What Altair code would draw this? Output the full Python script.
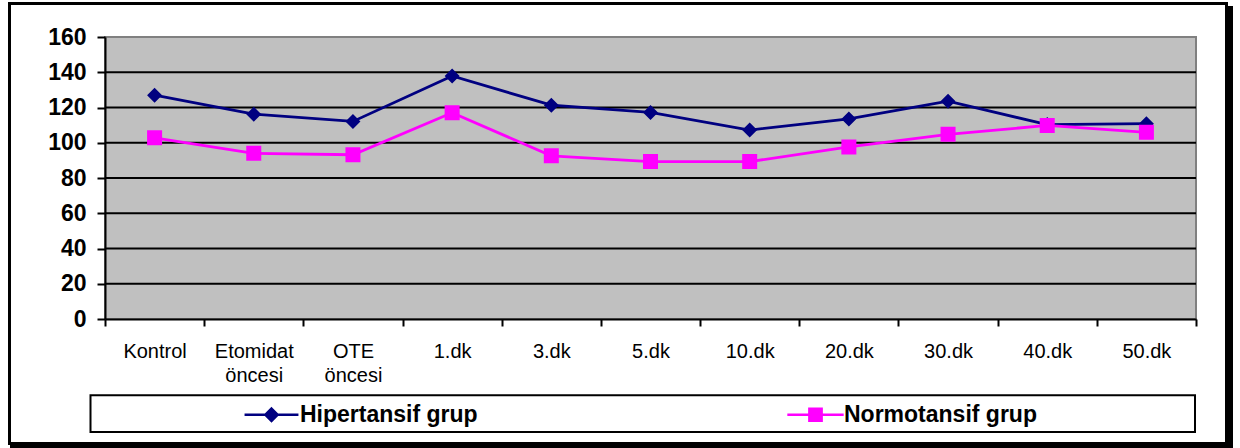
import altair as alt
import pandas as pd

# Measurement times (x categories); spaces become line breaks in the axis labels
zaman = ["Kontrol", "Etomidat öncesi", "OTE öncesi", "1.dk", "3.dk", "5.dk",
         "10.dk", "20.dk", "30.dk", "40.dk", "50.dk"]

# Series values
hipertansif = [127, 116.2, 112.1, 137.9, 121.3, 117.2, 107.2, 113.5, 123.6, 110.3, 110.8]
normotansif = [102.8, 94.0, 93.2, 117.0, 92.6, 89.3, 89.3, 97.6, 104.8, 109.8, 105.9]

seriler = ["Hipertansif grup", "Normotansif grup"]
renkler = ["#000080", "#FF00FF"]

y_ticks = [0, 20, 40, 60, 80, 100, 120, 140, 160]
grid_values = [20, 40, 60, 80, 100, 120, 140]

# Marker paths: a filled diamond / square with short line stubs on either side
# (the stubs have no area, so only the stroked legend symbols show them)
diamond_path = "M-4.4,0H-1M0,-1L1,0L0,1L-1,0ZM1,0H4.4"
square_path = "M-4.6,0H-1M-1,-1H1V1H-1ZM1,0H4.6"

FONT = "Liberation Sans"
W, H = 1091, 282

df = pd.DataFrame({
    "Zaman": zaman * 2,
    "Seri": [seriler[0]] * len(zaman) + [seriler[1]] * len(zaman),
    "Deger": hipertansif + normotansif,
})
grid_df = pd.DataFrame({"Deger": grid_values})

x_enc = alt.X(
    "Zaman:N", sort=zaman, bandPosition=0.5,
    scale=alt.Scale(type="band", domain=zaman, paddingInner=0, paddingOuter=0),
    axis=alt.Axis(
        title=None, grid=False, tickBand="extent", labelAngle=0,
        domainColor="black", domainWidth=2,
        tickColor="black", tickWidth=2, tickSize=7,
        labelPadding=15, labelFont=FONT, labelFontSize=20, labelColor="black",
        labelExpr="split(datum.label, ' ')", labelLineHeight=24,
        labelBaseline="top", labelOverlap=False, zindex=1,
    ),
)

y_axis = alt.Axis(
    title=None, grid=False, values=y_ticks,
    domainColor="black", domainWidth=2,
    tickColor="black", tickWidth=2, tickSize=8,
    labelPadding=11, labelFont=FONT, labelFontSize=23, labelFontWeight="bold",
    labelColor="black", zindex=1,
)
y_scale = alt.Scale(domain=[0, 160], nice=False, zero=True)
y_enc = alt.Y("Deger:Q", scale=y_scale, axis=y_axis)

legend = alt.Legend(
    title=None, orient="none", legendX=155, legendY=366,
    direction="horizontal", columns=2, columnPadding=304, padding=0,
    symbolSize=150, symbolStrokeWidth=2.5,
    labelFont=FONT, labelFontSize=23, labelFontWeight="bold", labelColor="black",
    labelOffset=17, labelLimit=400, zindex=2,
)

series_scale = alt.Scale(domain=seriler, range=renkler)
shape_scale = alt.Scale(domain=seriler, range=[diamond_path, square_path])

one = alt.Data(values=[{}])

# Outer frame with drop shadow
shadow = alt.Chart(one).mark_rect(color="black").encode(
    x=alt.value(-95), x2=alt.value(1128), y=alt.value(-31), y2=alt.value(411))
frame = alt.Chart(one).mark_rect(fill="white", stroke="black", strokeWidth=3).encode(
    x=alt.value(-95.5), x2=alt.value(1121.5), y=alt.value(-33.5), y2=alt.value(406.5))

# Grey plot area
plot_bg = alt.Chart(one).mark_rect(fill="#C0C0C0", stroke="#808080", strokeWidth=2).encode(
    x=alt.value(0), x2=alt.value(W), y=alt.value(0), y2=alt.value(H))

# Legend box
legend_box = alt.Chart(one).mark_rect(fill="white", stroke="black", strokeWidth=2).encode(
    x=alt.value(-14.5), x2=alt.value(1090), y=alt.value(358.3), y2=alt.value(395))

grid = alt.Chart(grid_df).mark_rule(color="black", strokeWidth=2).encode(y=y_enc)

lines = alt.Chart(df).mark_line(strokeWidth=2.8).encode(
    x=x_enc,
    y=y_enc,
    color=alt.Color("Seri:N", scale=series_scale, legend=legend),
)

points = alt.Chart(df).mark_point(filled=True, opacity=1, size=225).encode(
    x=x_enc,
    y=y_enc,
    fill=alt.Fill("Seri:N", scale=series_scale, legend=legend),
    stroke=alt.Stroke("Seri:N", scale=series_scale, legend=legend),
    shape=alt.Shape("Seri:N", scale=shape_scale, legend=legend),
    strokeWidth=alt.value(0),
)

chart = alt.layer(shadow, frame, plot_bg, legend_box, grid, lines, points).properties(
    width=W, height=H,
    padding={"left": 105, "top": 37, "right": 44, "bottom": 129},
    autosize=alt.AutoSizeParams(type="none"),
    background="white",
).configure_view(stroke=None)

chart.save("out.html", embed_options={"renderer": "svg", "actions": False})
